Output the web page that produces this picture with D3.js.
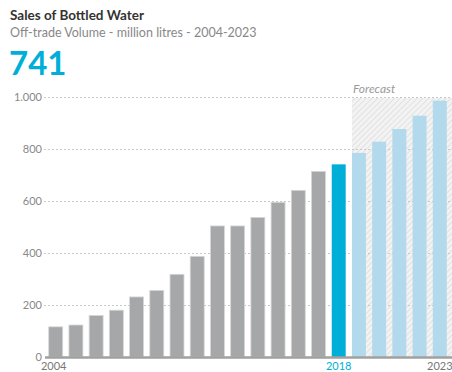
<!DOCTYPE html>
<html><head><meta charset="utf-8">
<script src="https://cdn.jsdelivr.net/npm/d3@7"></script>
<style>
html,body{margin:0;padding:0;background:#fff;}
svg{display:block;font-family:Lato,"Open Sans",sans-serif;}
</style></head>
<body>
<svg id="c" width="452" height="372"></svg>
<script>
const years = [2004,2005,2006,2007,2008,2009,2010,2011,2012,2013,2014,2015,2016,2017,2018,2019,2020,2021,2022,2023];
const values = [116,123,160,180,231,256,318,387,504,504,537,595,641,714,741,785,828,877,928,986];
const currentYear = 2018;
const yTicks = [0,200,400,600,800,1000];
const xLabels = [2004,2018,2023];

const svg = d3.select("#c");
const x = d3.scaleBand().domain(years).range([45.5,450]).paddingInner(0.31).paddingOuter(0.16);
const y = d3.scaleLinear().domain([0,1000]).range([357,97]);

// title
svg.append("text").attr("x",10).attr("y",20).attr("font-size",13.5).attr("font-weight",700).attr("fill","#333").text("Sales of Bottled Water");
svg.append("text").attr("x",10).attr("y",37).attr("font-size",12.5).attr("fill","#888").text("Off-trade Volume - million litres - 2004-2023");
svg.append("text").attr("x",9).attr("y",75).attr("font-size",33).attr("font-weight",700).attr("fill","#00afd8").text(values[years.indexOf(currentYear)]);

// hatch pattern
const defs = svg.append("defs");
const pat = defs.append("pattern").attr("id","hatch").attr("patternUnits","userSpaceOnUse").attr("width",4).attr("height",4).attr("patternTransform","rotate(45)");
pat.append("rect").attr("width",4).attr("height",4).attr("fill","#f3f3f3");
pat.append("line").attr("x1",0).attr("y1",0).attr("x2",0).attr("y2",4).attr("stroke","#dcdcdc").attr("stroke-width",1.5);

const fStart = x(currentYear+1);
svg.append("rect").attr("x",fStart).attr("y",y(1000)+1).attr("width",452-fStart).attr("height",y(0)-y(1000)-1).attr("fill","url(#hatch)");
svg.append("text").attr("x",fStart+1).attr("y",93).attr("font-size",12).attr("font-style","italic").attr("fill","#999").text("Forecast");

// gridlines
svg.append("g").selectAll("line").data(yTicks.filter(d=>d>0)).join("line")
  .attr("x1",44).attr("x2",450).attr("y1",d=>y(d)+0.5).attr("y2",d=>y(d)+0.5)
  .attr("stroke","#c8c8c8").attr("stroke-dasharray","2,2");

// y tick labels
svg.append("g").selectAll("text").data(yTicks).join("text")
  .attr("x",42).attr("y",d=>y(d)+4).attr("text-anchor","end").attr("font-size",11).attr("fill","#888")
  .text(d=>d3.format(",")(d).replace(",","."));

// bars
svg.append("g").selectAll("rect").data(years).join("rect")
  .attr("x",d=>x(d)).attr("width",x.bandwidth())
  .attr("y",(d,i)=>y(values[i])).attr("height",(d,i)=>y(0)-y(values[i]))
  .attr("fill",d=>d<currentYear?"#a6a7a9":(d===currentYear?"#00afd8":"#b3d9ec"))
  .attr("stroke",d=>d<currentYear?"#d6d6d6":"none").attr("stroke-width",0.8);

// axis
svg.append("line").attr("x1",45).attr("x2",452).attr("y1",357.5).attr("y2",357.5).attr("stroke","#a0a0a0").attr("stroke-width",2.5);

// x labels
svg.append("g").selectAll("text").data(xLabels).join("text")
  .attr("x",d=>x(d)+x.bandwidth()/2-(d===2004?2:0)).attr("y",370).attr("text-anchor","middle").attr("font-size",11)
  .attr("fill",d=>d===currentYear?"#00afd8":"#777").text(d=>d);
</script>
</body></html>
